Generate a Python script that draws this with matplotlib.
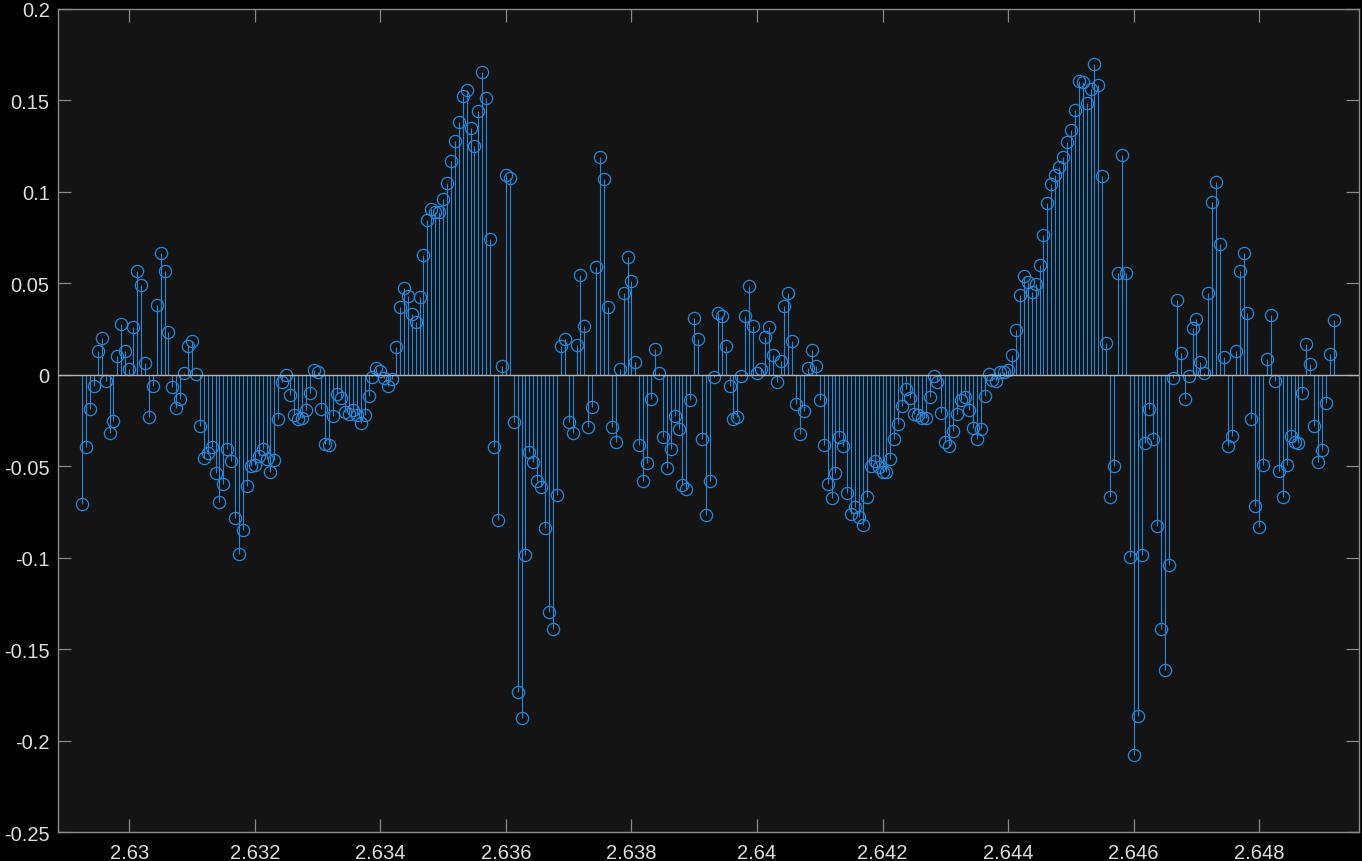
import numpy as np
import matplotlib
matplotlib.use("Agg")
import matplotlib.pyplot as plt
from matplotlib.ticker import FixedLocator, FixedFormatter

# ---- data -------------------------------------------------------------
fs = 16000.0              # sample rate (Hz)
first_sample = 42068      # index of first plotted sample
values = [
    -0.0705, -0.0395, -0.0187, -0.0060, 0.0129, 0.0200, -0.0033, -0.0316, -0.0253, 0.0102,
    0.0276, 0.0129, 0.0031, 0.0260, 0.0566, 0.0490, 0.0064, -0.0231, -0.0060, 0.0382,
    0.0664, 0.0566, 0.0233, -0.0064, -0.0182, -0.0133, 0.0013, 0.0157, 0.0185, 0.0004,
    -0.0280, -0.0455, -0.0427, -0.0393, -0.0536, -0.0695, -0.0596, -0.0404, -0.0471, -0.0782,
    -0.0978, -0.0847, -0.0607, -0.0500, -0.0491, -0.0444, -0.0404, -0.0458, -0.0529, -0.0464,
    -0.0240, -0.0040, 0.0000, -0.0109, -0.0218, -0.0240, -0.0233, -0.0191, -0.0100, 0.0029,
    0.0018, -0.0185, -0.0378, -0.0382, -0.0222, -0.0104, -0.0127, -0.0204, -0.0213, -0.0191,
    -0.0218, -0.0264, -0.0218, -0.0116, -0.0013, 0.0036, 0.0024, -0.0018, -0.0062, -0.0022,
    0.0151, 0.0369, 0.0475, 0.0433, 0.0331, 0.0291, 0.0424, 0.0658, 0.0847, 0.0909,
    0.0891, 0.0890, 0.0964, 0.1050, 0.1167, 0.1280, 0.1380, 0.1524, 0.1555, 0.1350,
    0.1252, 0.1444, 0.1656, 0.1515, 0.0744, -0.0395, -0.0794, 0.0047, 0.1090, 0.1076,
    -0.0258, -0.1733, -0.1874, -0.0984, -0.0423, -0.0477, -0.0580, -0.0613, -0.0836, -0.1296,
    -0.1388, -0.0658, 0.0160, 0.0195, -0.0258, -0.0319, 0.0164, 0.0547, 0.0265, -0.0287,
    -0.0176, 0.0592, 0.1190, 0.1070, 0.0373, -0.0287, -0.0366, 0.0030, 0.0447, 0.0642,
    0.0516, 0.0069, -0.0382, -0.0578, -0.0480, -0.0131, 0.0140, 0.0009, -0.0340, -0.0509,
    -0.0404, -0.0225, -0.0295, -0.0604, -0.0622, -0.0138, 0.0309, 0.0195, -0.0349, -0.0764,
    -0.0578, -0.0013, 0.0338, 0.0322, 0.0156, -0.0062, -0.0240, -0.0229, -0.0007, 0.0320,
    0.0484, 0.0269, 0.0009, 0.0033, 0.0209, 0.0260, 0.0109, -0.0040, 0.0076, 0.0376,
    0.0446, 0.0185, -0.0158, -0.0322, -0.0198, 0.0036, 0.0136, 0.0047, -0.0136, -0.0382,
    -0.0595, -0.0673, -0.0536, -0.0340, -0.0386, -0.0644, -0.0760, -0.0724, -0.0778, -0.0820,
    -0.0667, -0.0498, -0.0473, -0.0504, -0.0531, -0.0531, -0.0458, -0.0351, -0.0267, -0.0171,
    -0.0076, -0.0127, -0.0213, -0.0218, -0.0236, -0.0236, -0.0122, -0.0004, -0.0040, -0.0207,
    -0.0366, -0.0387, -0.0307, -0.0213, -0.0136, -0.0122, -0.0191, -0.0289, -0.0349, -0.0295,
    -0.0116, 0.0005, -0.0027, -0.0031, 0.0015, 0.0018, 0.0029, 0.0109, 0.0247, 0.0436,
    0.0538, 0.0506, 0.0451, 0.0495, 0.0600, 0.0767, 0.0942, 0.1046, 0.1095, 0.1135,
    0.1193, 0.1275, 0.1340, 0.1449, 0.1609, 0.1600, 0.1484, 0.1560, 0.1700, 0.1582,
    0.1089, 0.0173, -0.0667, -0.0498, 0.0556, 0.1200, 0.0556, -0.0998, -0.2080, -0.1863,
    -0.0982, -0.0373, -0.0186, -0.0353, -0.0824, -0.1388, -0.1611, -0.1037, -0.0018, 0.0408,
    0.0118, -0.0134, -0.0007, 0.0256, 0.0305, 0.0068, 0.0011, 0.0447, 0.0943, 0.1052,
    0.0717, 0.0096, -0.0390, -0.0335, 0.0132, 0.0568, 0.0669, 0.0340, -0.0241, -0.0715,
    -0.0831, -0.0493, 0.0085, 0.0327, -0.0035, -0.0526, -0.0666, -0.0491, -0.0335, -0.0366,
    -0.0373, -0.0101, 0.0169, 0.0059, -0.0281, -0.0476, -0.0412, -0.0156, 0.0112, 0.0298,
]
x_ticks = [2.630, 2.632, 2.634, 2.636, 2.638, 2.640, 2.642, 2.644, 2.646, 2.648]
x_tick_labels = ["2.63", "2.632", "2.634", "2.636", "2.638", "2.64", "2.642", "2.644", "2.646", "2.648"]
y_ticks = [-0.25, -0.2, -0.15, -0.1, -0.05, 0.0, 0.05, 0.1, 0.15, 0.2]
y_tick_labels = ["-0.25", "-0.2", "-0.15", "-0.1", "-0.05", "0", "0.05", "0.1", "0.15", "0.2"]

t = (first_sample + np.arange(len(values))) / fs
y = np.array(values)

# ---- style ------------------------------------------------------------
plt.rcParams['font.family'] = ['Liberation Sans', 'DejaVu Sans']
plt.rcParams['axes.unicode_minus'] = False

STEM = '#2389dc'
AX_BG = '#141414'
SPINE = '#8a8a8a'
TXT = '#dedede'

fig = plt.figure(figsize=(13.62, 8.62), dpi=100, facecolor='black')
ax = fig.add_axes([0.0424, 0.0333, 0.9554, 0.9551])
ax.set_facecolor(AX_BG)

ax.axhline(0, color='#b4b4b4', lw=1.0, zorder=3)
markerline, stemlines, baseline = ax.stem(t, y)
baseline.set_visible(False)
stemlines.set_color(STEM)
stemlines.set_linewidth(0.8)
markerline.set_marker('o')
markerline.set_markersize(8.8)
markerline.set_markerfacecolor('none')
markerline.set_markeredgecolor(STEM)
markerline.set_markeredgewidth(0.9)
markerline.set_linestyle('none')

ax.set_xlim(2.628862, 2.649589)
ax.set_ylim(-0.25, 0.2)
ax.xaxis.set_major_locator(FixedLocator(x_ticks))
ax.xaxis.set_major_formatter(FixedFormatter(x_tick_labels))
ax.yaxis.set_major_locator(FixedLocator(y_ticks))
ax.yaxis.set_major_formatter(FixedFormatter(y_tick_labels))

for s in ax.spines.values():
    s.set_color(SPINE)
    s.set_linewidth(1.0)
ax.tick_params(axis='both', which='major', direction='in', length=9.2, width=0.9,
               color=SPINE, labelcolor=TXT, labelsize=14.5,
               top=True, right=True)
ax.tick_params(axis='x', pad=8.0)
ax.tick_params(axis='y', pad=5.8)

fig.savefig('out.png', dpi=100, facecolor='black')
